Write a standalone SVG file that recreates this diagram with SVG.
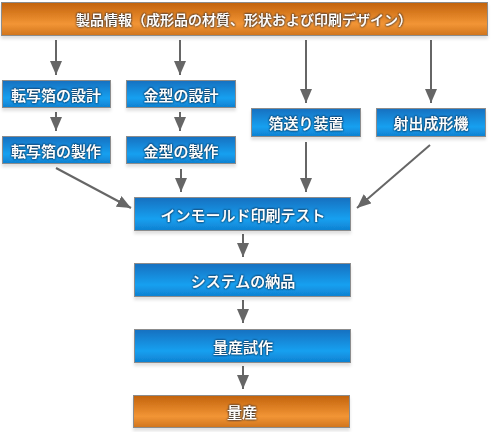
<svg xmlns="http://www.w3.org/2000/svg" width="491" height="432" viewBox="0 0 491 432">
<style>
.box{stroke:#8c8c8c;stroke-width:1}
.blue{fill:url(#gb)}
.orange{fill:url(#go)}
text{font-family:"Noto Sans CJK JP","Noto Sans",sans-serif;font-size:15px;font-weight:500;fill:#fff;text-anchor:middle;dominant-baseline:central;filter:url(#glow)}
text.t{font-size:14px}
.conn line{stroke:#666;stroke-width:2;marker-end:url(#ah)}
</style>
<defs>
<linearGradient id="gb" x1="0" y1="0" x2="0" y2="1">
<stop offset="0" stop-color="#1570c0"/>
<stop offset="0.65" stop-color="#15a0f0"/>
<stop offset="1" stop-color="#1080d0"/>
</linearGradient>
<linearGradient id="go" x1="0" y1="0" x2="0" y2="1">
<stop offset="0" stop-color="#c2620c"/>
<stop offset="0.65" stop-color="#f29535"/>
<stop offset="1" stop-color="#d0741c"/>
</linearGradient>
<filter id="glow" x="-20%" y="-50%" width="140%" height="200%">
<feGaussianBlur in="SourceAlpha" stdDeviation="1.2" result="b"/>
<feFlood flood-color="#1a2a40" flood-opacity="0.9"/>
<feComposite in2="b" operator="in" result="s"/>
<feMerge><feMergeNode in="s"/><feMergeNode in="s"/><feMergeNode in="SourceGraphic"/></feMerge>
</filter>
<filter id="sh" x="-5%" y="-20%" width="110%" height="160%">
<feGaussianBlur in="SourceAlpha" stdDeviation="1.5" result="b"/>
<feOffset dy="3" result="o"/>
<feFlood flood-color="#000" flood-opacity="0.12"/>
<feComposite in2="o" operator="in" result="s"/>
<feMerge><feMergeNode in="s"/><feMergeNode in="SourceGraphic"/></feMerge>
</filter>
<marker id="ah" viewBox="0 0 14 12" refX="14" refY="6" markerWidth="14" markerHeight="12" markerUnits="userSpaceOnUse" orient="auto">
<path d="M0,0 L14,6 L0,12 Z" fill="#666"/>
</marker>
</defs>
<rect width="491" height="432" fill="#fff"/>
<g class="conn">
<line x1="56" y1="40" x2="56" y2="75"/>
<line x1="180" y1="40" x2="180" y2="75"/>
<line x1="306" y1="40" x2="306" y2="103"/>
<line x1="431" y1="40" x2="431" y2="103"/>
<line x1="56" y1="112" x2="56" y2="131"/>
<line x1="180" y1="112" x2="180" y2="131"/>
<line x1="56" y1="168" x2="131" y2="208"/>
<line x1="181" y1="169" x2="181" y2="192"/>
<line x1="306" y1="142" x2="306" y2="192"/>
<line x1="430" y1="145" x2="357" y2="208"/>
<line x1="243" y1="234" x2="243" y2="257"/>
<line x1="243" y1="300" x2="243" y2="323"/>
<line x1="243" y1="366" x2="243" y2="389"/>
</g>
<g id="top" filter="url(#sh)"><rect class="box orange" x="1.5" y="2.5" width="486" height="33"/><text class="t" x="244" y="19">製品情報（成形品の材質、形状および印刷デザイン）</text></g>
<g id="n1" filter="url(#sh)"><rect class="box blue" x="2.5" y="80.5" width="108" height="27"/><text x="56" y="94">転写箔の設計</text></g>
<g id="n2" filter="url(#sh)"><rect class="box blue" x="126.5" y="80.5" width="109" height="27"/><text x="181" y="94">金型の設計</text></g>
<g id="n3" filter="url(#sh)"><rect class="box blue" x="2.5" y="136.5" width="108" height="27"/><text x="56" y="150">転写箔の製作</text></g>
<g id="n4" filter="url(#sh)"><rect class="box blue" x="126.5" y="136.5" width="109" height="27"/><text x="181" y="150">金型の製作</text></g>
<g id="n5" filter="url(#sh)"><rect class="box blue" x="251.5" y="108.5" width="109" height="28"/><text x="306" y="122.5">箔送り装置</text></g>
<g id="n6" filter="url(#sh)"><rect class="box blue" x="376.5" y="108.5" width="109" height="28"/><text x="431" y="122.5">射出成形機</text></g>
<g id="n7" filter="url(#sh)"><rect class="box blue" x="134.5" y="197.5" width="216" height="33"/><text x="243" y="214">インモールド印刷テスト</text></g>
<g id="n8" filter="url(#sh)"><rect class="box blue" x="134.5" y="263.5" width="216" height="33"/><text x="243" y="280">システムの納品</text></g>
<g id="n9" filter="url(#sh)"><rect class="box blue" x="134.5" y="329.5" width="216" height="33"/><text x="243" y="346">量産試作</text></g>
<g id="n10" filter="url(#sh)"><rect class="box orange" x="133.5" y="395.5" width="216" height="32"/><text x="242" y="411.5">量産</text></g>
</svg>
